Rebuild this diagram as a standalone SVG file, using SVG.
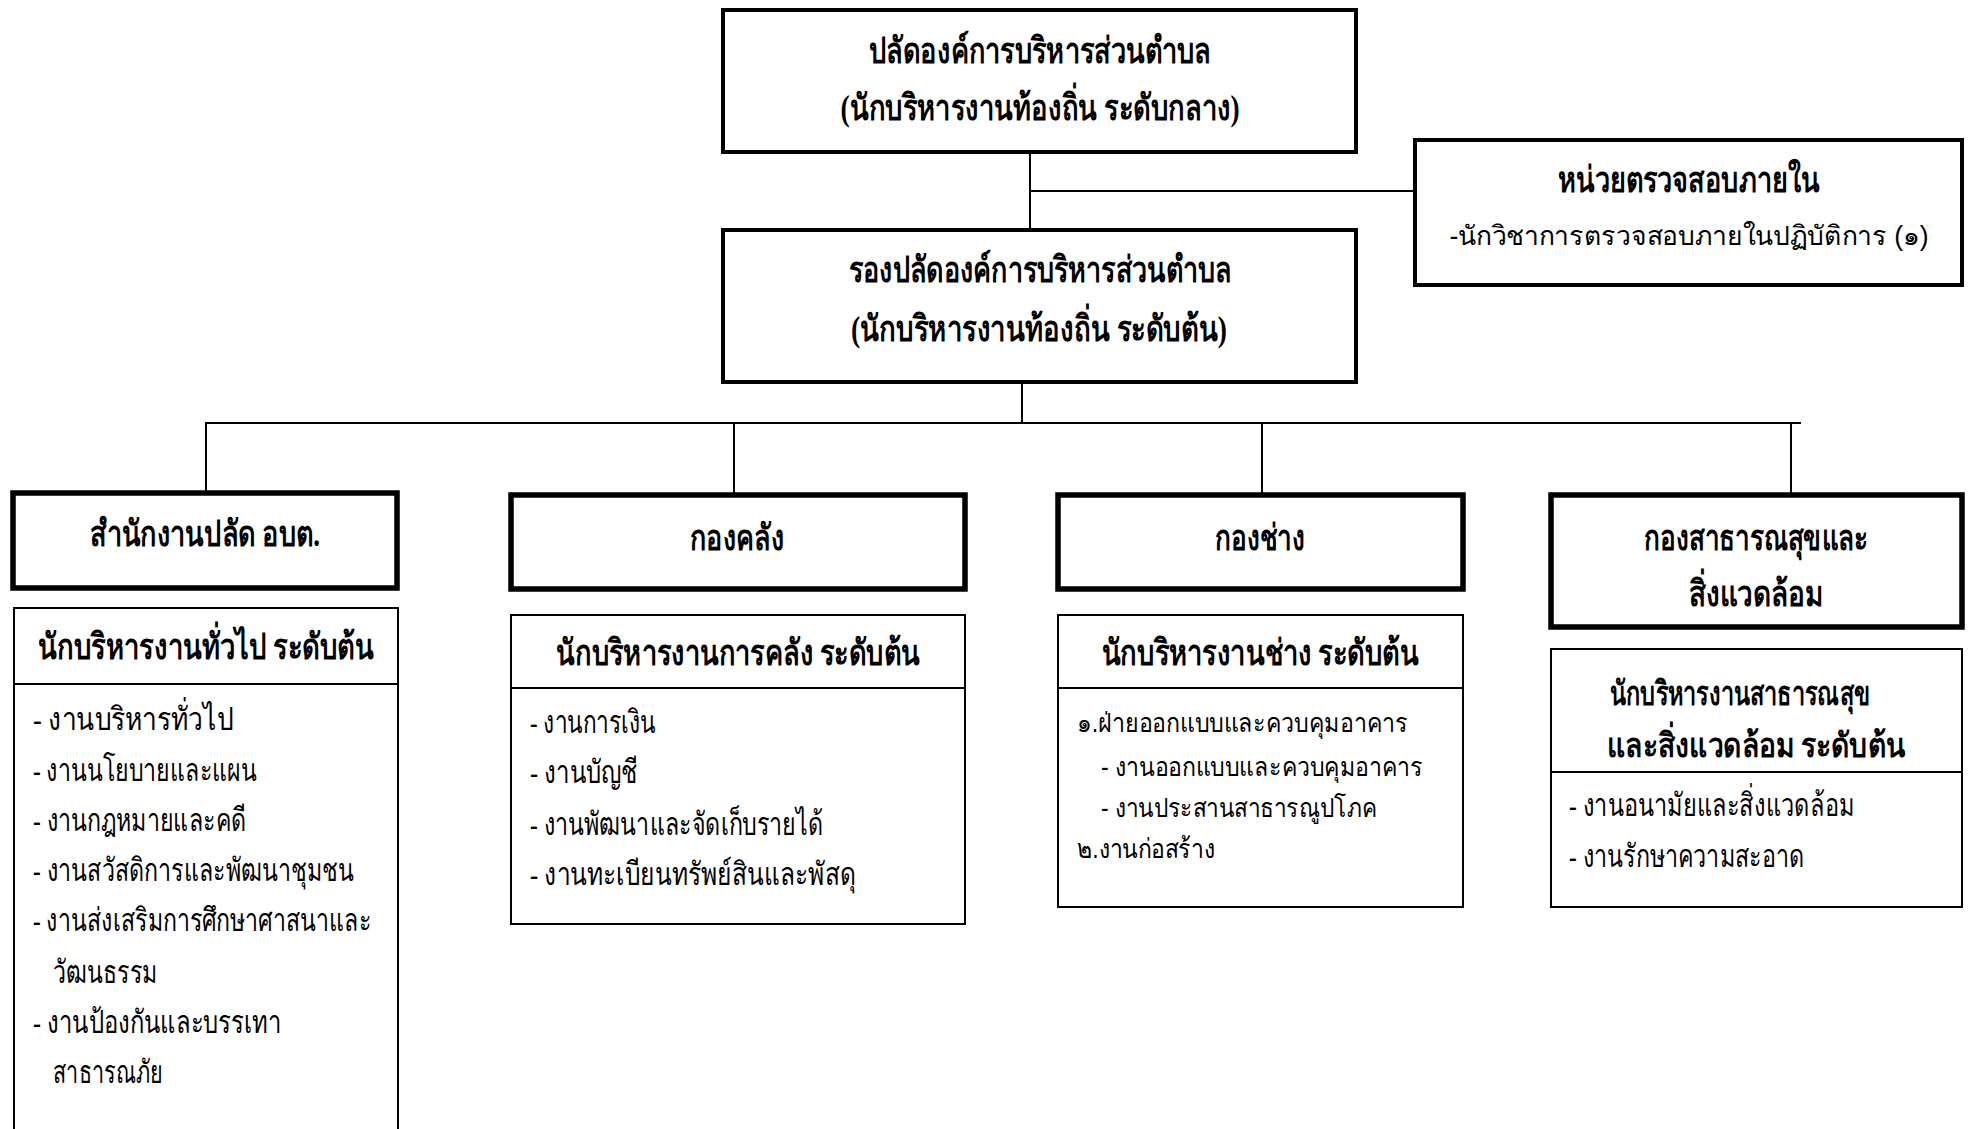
<svg xmlns="http://www.w3.org/2000/svg" width="1968" height="1129" viewBox="0 0 1968 1129">
<style>
  .bg{fill:#ffffff}
  .top{fill:#fff;stroke:#000;stroke-width:4}
  .dept{fill:#fff;stroke:#000;stroke-width:5.5}
  .sub{fill:#fff;stroke:#000;stroke-width:2}
  .div{stroke:#000;stroke-width:2}
  .con{stroke:#000;stroke-width:2;fill:none}
  .h{font-family:"Liberation Serif",serif;font-weight:bold;font-size:36px;fill:#000;text-anchor:middle}
  .h2{font-family:"Liberation Serif",serif;font-weight:bold;font-size:34px;fill:#000;text-anchor:middle}
  .i{font-family:"Liberation Serif",serif;font-size:32px;fill:#000}
  .s{font-family:"Liberation Sans",sans-serif;font-size:27px;fill:#000}
</style>
<rect class="bg" x="0" y="0" width="1968" height="1129"/>
<g id="connectors">
  <line class="con" x1="1030" y1="153" x2="1030" y2="229"/>
  <line class="con" x1="1030" y1="191" x2="1414" y2="191"/>
  <line class="con" x1="1022" y1="383" x2="1022" y2="423"/>
  <line class="con" x1="205" y1="423" x2="1801" y2="423"/>
  <line class="con" x1="206" y1="423" x2="206" y2="491"/>
  <line class="con" x1="734" y1="423" x2="734" y2="493"/>
  <line class="con" x1="1262" y1="423" x2="1262" y2="493"/>
  <line class="con" x1="1791" y1="423" x2="1791" y2="493"/>
</g>
<g id="chief">
  <rect class="top" x="723" y="10" width="633" height="142"/>
  <text class="h" x="1040" y="63" textLength="342" lengthAdjust="spacingAndGlyphs">ปลัดองค์การบริหารส่วนตำบล</text>
  <text class="h" x="1040" y="120" textLength="399" lengthAdjust="spacingAndGlyphs">(นักบริหารงานท้องถิ่น ระดับกลาง)</text>
</g>
<g id="deputy">
  <rect class="top" x="723" y="230" width="633" height="152"/>
  <text class="h" x="1040" y="282" textLength="383" lengthAdjust="spacingAndGlyphs">รองปลัดองค์การบริหารส่วนตำบล</text>
  <text class="h" x="1039" y="341" textLength="376" lengthAdjust="spacingAndGlyphs">(นักบริหารงานท้องถิ่น ระดับต้น)</text>
</g>
<g id="audit">
  <rect class="top" x="1415" y="140" width="547" height="145"/>
  <text class="h" x="1689" y="192" textLength="262" lengthAdjust="spacingAndGlyphs">หน่วยตรวจสอบภายใน</text>
  <text class="s" x="1689" y="245" text-anchor="middle" textLength="479" lengthAdjust="spacingAndGlyphs">-นักวิชาการตรวจสอบภายในปฏิบัติการ (๑)</text>
</g>
<g id="office">
  <rect class="dept" x="13" y="493" width="384" height="95"/>
  <text class="h" x="205" y="546" textLength="230" lengthAdjust="spacingAndGlyphs">สำนักงานปลัด อบต.</text>
</g>
<g id="office-staff">
  <rect class="sub" x="14" y="608" width="384" height="540"/>
  <line class="div" x1="14" y1="684" x2="398" y2="684"/>
  <text class="h" x="206" y="659" textLength="336" lengthAdjust="spacingAndGlyphs">นักบริหารงานทั่วไป ระดับต้น</text>
  <text class="i" x="33" y="730" textLength="200" lengthAdjust="spacingAndGlyphs">- งานบริหารทั่วไป</text>
  <text class="i" x="33" y="781" textLength="224" lengthAdjust="spacingAndGlyphs">- งานนโยบายและแผน</text>
  <text class="i" x="33" y="831" textLength="213" lengthAdjust="spacingAndGlyphs">- งานกฎหมายและคดี</text>
  <text class="i" x="33" y="881" textLength="321" lengthAdjust="spacingAndGlyphs">- งานสวัสดิการและพัฒนาชุมชน</text>
  <text class="i" x="33" y="931" textLength="338" lengthAdjust="spacingAndGlyphs">- งานส่งเสริมการศึกษาศาสนาและ</text>
  <text class="i" x="53" y="983" textLength="104" lengthAdjust="spacingAndGlyphs">วัฒนธรรม</text>
  <text class="i" x="33" y="1033" textLength="248" lengthAdjust="spacingAndGlyphs">- งานป้องกันและบรรเทา</text>
  <text class="i" x="53" y="1083" textLength="110" lengthAdjust="spacingAndGlyphs">สาธารณภัย</text>
</g>
<g id="finance">
  <rect class="dept" x="511" y="495" width="454" height="94"/>
  <text class="h" x="737" y="550" textLength="94" lengthAdjust="spacingAndGlyphs">กองคลัง</text>
</g>
<g id="finance-staff">
  <rect class="sub" x="511" y="615" width="454" height="309"/>
  <line class="div" x1="511" y1="688" x2="965" y2="688"/>
  <text class="h" x="738" y="665" textLength="364" lengthAdjust="spacingAndGlyphs">นักบริหารงานการคลัง ระดับต้น</text>
  <text class="i" x="530" y="733" textLength="126" lengthAdjust="spacingAndGlyphs">- งานการเงิน</text>
  <text class="i" x="530" y="783" textLength="108" lengthAdjust="spacingAndGlyphs">- งานบัญชี</text>
  <text class="i" x="530" y="835" textLength="293" lengthAdjust="spacingAndGlyphs">- งานพัฒนาและจัดเก็บรายได้</text>
  <text class="i" x="530" y="885" textLength="326" lengthAdjust="spacingAndGlyphs">- งานทะเบียนทรัพย์สินและพัสดุ</text>
</g>
<g id="engineering">
  <rect class="dept" x="1058" y="495" width="405" height="94"/>
  <text class="h" x="1260" y="550" textLength="90" lengthAdjust="spacingAndGlyphs">กองช่าง</text>
</g>
<g id="engineering-staff">
  <rect class="sub" x="1058" y="615" width="405" height="292"/>
  <line class="div" x1="1058" y1="688" x2="1463" y2="688"/>
  <text class="h" x="1260" y="665" textLength="317" lengthAdjust="spacingAndGlyphs">นักบริหารงานช่าง ระดับต้น</text>
  <text class="s" x="1077" y="732" textLength="331" lengthAdjust="spacingAndGlyphs">๑.ฝ่ายออกแบบและควบคุมอาคาร</text>
  <text class="s" x="1101" y="776" textLength="322" lengthAdjust="spacingAndGlyphs">- งานออกแบบและควบคุมอาคาร</text>
  <text class="s" x="1101" y="817" textLength="276" lengthAdjust="spacingAndGlyphs">- งานประสานสาธารณูปโภค</text>
  <text class="s" x="1077" y="858" textLength="138" lengthAdjust="spacingAndGlyphs">๒.งานก่อสร้าง</text>
</g>
<g id="health">
  <rect class="dept" x="1551" y="495" width="411" height="132"/>
  <text class="h" x="1756" y="550" textLength="224" lengthAdjust="spacingAndGlyphs">กองสาธารณสุขและ</text>
  <text class="h" x="1756" y="606" textLength="135" lengthAdjust="spacingAndGlyphs">สิ่งแวดล้อม</text>
</g>
<g id="health-staff">
  <rect class="sub" x="1551" y="649" width="411" height="258"/>
  <line class="div" x1="1551" y1="772" x2="1962" y2="772"/>
  <text class="h2" x="1740" y="705" font-size="32" textLength="260" lengthAdjust="spacingAndGlyphs">นักบริหารงานสาธารณสุข</text>
  <text class="h2" x="1756" y="757" textLength="298" lengthAdjust="spacingAndGlyphs">และสิ่งแวดล้อม  ระดับต้น</text>
  <text class="i" x="1569" y="816" textLength="285" lengthAdjust="spacingAndGlyphs">- งานอนามัยและสิ่งแวดล้อม</text>
  <text class="i" x="1569" y="867" textLength="235" lengthAdjust="spacingAndGlyphs">- งานรักษาความสะอาด</text>
</g>
</svg>
